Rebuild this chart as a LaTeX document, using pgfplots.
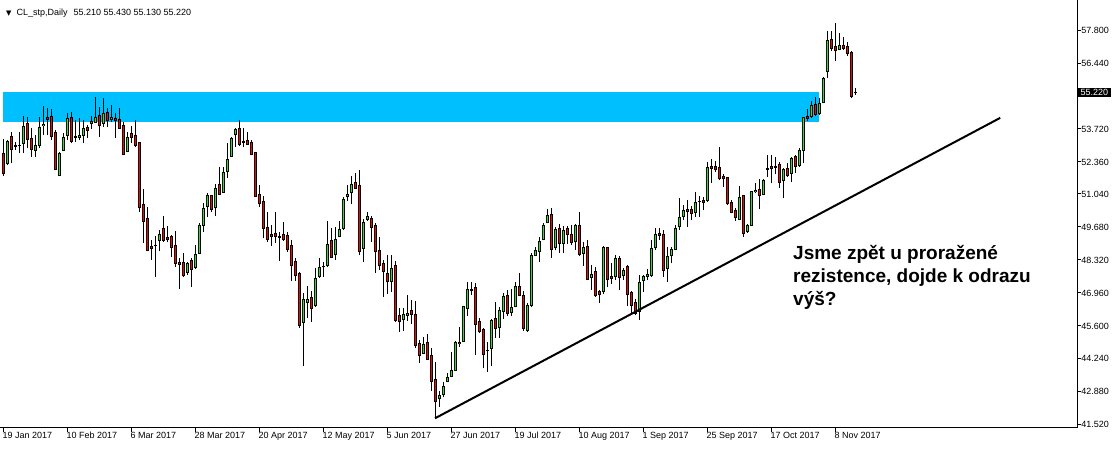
\documentclass[border=0pt]{standalone}
\usepackage{fontspec}
\setmainfont{Liberation Sans}
\newfontfamily\dejavu{DejaVu Sans}
\usepackage{pgfplots}
\pgfplotsset{compat=1.18}
\usepackage{pgfplotstable}
\definecolor{bandblue}{RGB}{0,191,255}
\definecolor{bull}{RGB}{0,255,0}
\definecolor{bear}{RGB}{255,0,0}

\pgfplotstableread{
k o h l c
0 52.72 53.30 51.80 51.87
1 52.30 53.26 52.23 53.22
2 53.43 53.61 52.30 52.88
3 53.02 53.18 52.85 53.00
4 53.02 53.59 52.73 53.06
5 53.13 54.25 52.72 53.84
6 53.95 54.22 52.92 53.29
7 53.33 53.75 52.58 52.88
8 52.84 53.47 52.58 53.06
9 53.03 54.20 52.92 53.79
10 53.85 54.67 53.47 53.92
11 54.18 54.57 53.47 54.12
12 54.25 54.53 53.26 53.40
13 53.56 53.67 52.03 52.06
14 51.82 52.77 51.78 52.72
15 52.84 53.55 52.81 53.38
16 53.47 54.39 53.26 54.16
17 54.20 54.43 53.14 53.22
18 53.40 54.09 53.19 53.38
19 53.39 54.16 53.26 53.47
20 53.47 54.09 53.13 53.75
21 53.79 53.88 53.35 53.65
22 53.94 54.25 53.71 54.01
23 54.00 55.05 53.95 54.20
24 54.29 54.61 53.40 53.85
25 53.95 54.98 53.81 54.36
26 54.41 54.57 53.81 54.06
27 54.10 54.71 54.02 54.20
28 54.16 54.36 53.33 54.06
29 54.12 54.57 53.71 53.75
30 53.88 53.99 52.65 52.67
31 52.78 53.58 52.77 53.38
32 53.54 53.84 53.13 53.36
33 53.47 54.09 52.99 53.03
34 53.17 53.18 50.31 50.47
35 50.61 51.24 49.00 49.89
36 50.01 50.51 48.68 48.70
37 48.89 49.14 48.31 48.80
38 48.92 49.32 47.63 48.90
39 49.11 49.55 48.70 49.37
40 49.63 50.13 49.07 49.14
41 49.26 49.72 49.04 49.15
42 49.30 49.35 48.45 48.82
43 48.93 49.52 48.04 48.18
44 48.22 48.40 47.12 48.15
45 48.20 48.59 47.61 47.67
46 47.79 48.25 47.70 48.18
47 48.31 48.38 47.21 47.93
48 48.00 48.93 47.93 48.56
49 48.59 49.83 48.56 49.72
50 49.76 50.65 49.48 50.45
51 50.51 51.07 50.10 50.96
52 50.96 51.00 50.31 50.41
53 50.47 51.45 50.14 51.27
54 51.45 52.14 51.00 51.02
55 51.11 52.14 51.08 51.94
56 51.96 53.13 51.71 52.47
57 52.58 53.40 52.57 53.33
58 53.48 53.75 52.99 53.68
59 53.72 54.09 53.02 53.09
60 53.19 53.75 52.99 53.17
61 53.26 53.58 53.06 53.09
62 53.17 53.26 52.65 52.67
63 52.76 52.78 50.92 50.93
64 51.02 51.41 50.51 50.65
65 50.75 50.96 49.21 49.62
66 49.67 50.31 49.07 49.18
67 49.35 49.76 48.89 49.28
68 49.42 50.31 49.03 49.28
69 49.28 49.48 48.29 49.25
70 49.35 49.87 49.10 49.17
71 49.32 49.48 48.66 48.76
72 48.93 49.14 47.46 48.11
73 48.27 48.38 47.46 47.66
74 47.77 47.83 45.50 45.63
75 45.75 46.94 43.96 46.67
76 46.57 47.26 45.94 46.67
77 46.78 47.04 45.77 46.32
78 46.43 48.00 46.39 47.56
79 47.63 48.38 47.59 48.01
80 48.07 48.25 47.63 48.05
81 48.08 49.92 48.04 48.96
82 49.14 49.65 48.38 48.43
83 48.55 49.69 48.31 49.18
84 49.28 49.92 49.25 49.59
85 49.62 50.90 49.55 50.82
86 50.93 51.43 50.77 51.00
87 51.09 51.79 50.61 51.45
88 51.52 51.89 51.23 51.27
89 51.37 52.03 48.52 48.66
90 48.80 50.00 48.23 49.87
91 50.00 50.31 49.94 50.10
92 50.03 50.13 49.07 49.66
93 49.76 49.83 47.79 48.66
94 48.73 49.28 47.90 48.08
95 48.18 48.31 46.80 47.83
96 47.77 48.52 46.91 47.42
97 47.45 48.52 47.01 47.97
98 48.08 48.29 45.77 45.84
99 46.01 46.32 45.36 45.77
100 45.87 46.32 45.40 46.05
101 46.02 46.87 45.81 46.12
102 46.25 46.67 45.68 46.07
103 46.09 46.62 44.67 44.78
104 44.89 45.02 44.08 44.37
105 44.47 45.15 44.45 44.84
106 44.92 45.26 44.19 44.23
107 44.40 44.67 42.93 43.30
108 43.39 44.12 41.79 42.47
109 42.61 42.93 42.27 42.75
110 42.79 43.30 42.65 43.12
111 43.30 43.67 43.28 43.48
112 43.53 44.51 43.48 43.75
113 43.78 44.97 43.75 44.92
114 44.93 45.54 44.74 44.88
115 44.95 46.43 44.93 46.39
116 46.32 47.40 46.00 47.12
117 47.12 47.40 46.87 47.08
118 47.19 47.36 44.40 45.66
119 45.77 45.92 45.29 45.36
120 45.47 45.50 43.85 44.43
121 44.60 44.92 43.71 44.60
122 44.67 45.88 43.94 45.84
123 45.91 46.57 45.11 45.50
124 45.54 46.39 45.11 46.23
125 46.19 46.94 45.88 46.83
126 46.87 47.08 46.00 46.12
127 46.16 47.12 46.00 46.35
128 46.39 47.42 46.36 47.24
129 47.22 47.77 46.83 46.87
130 46.87 47.04 45.39 45.51
131 45.43 46.55 45.35 46.46
132 46.46 48.59 46.39 48.52
133 48.49 48.86 48.48 48.69
134 48.66 49.28 48.25 49.10
135 49.17 49.85 49.14 49.76
136 49.85 50.41 49.83 50.17
137 50.21 50.45 48.39 48.76
138 48.82 49.66 48.73 49.58
139 49.62 49.80 48.62 49.00
140 49.00 49.72 48.59 49.55
141 49.62 49.72 48.97 49.37
142 49.38 49.76 48.93 49.03
143 49.07 49.80 48.73 49.76
144 49.76 50.29 48.48 48.55
145 48.59 49.07 48.07 48.84
146 48.89 49.14 47.49 47.53
147 47.60 48.11 47.08 47.73
148 47.83 48.04 46.80 46.84
149 47.01 47.08 46.56 46.91
150 47.01 48.89 46.90 48.84
151 48.84 48.86 47.19 47.52
152 47.63 48.20 47.33 47.56
153 47.63 48.52 47.49 48.38
154 48.38 48.48 47.08 47.59
155 47.66 47.97 47.49 47.90
156 48.07 48.11 46.43 46.90
157 46.97 47.04 46.09 46.46
158 46.57 46.69 46.05 46.12
159 46.19 47.70 45.84 47.40
160 47.46 47.70 47.01 47.63
161 47.63 47.94 47.49 47.70
162 47.66 49.14 47.63 48.80
163 48.82 49.62 48.73 49.37
164 49.42 49.62 49.14 49.32
165 49.37 49.55 47.63 47.90
166 47.97 48.84 47.42 48.45
167 48.52 48.84 48.18 48.77
168 48.76 49.76 48.73 49.62
169 49.69 50.86 49.55 50.08
170 50.13 50.58 49.96 50.34
171 50.41 50.79 49.69 50.31
172 50.38 50.54 49.96 50.24
173 50.27 51.13 50.10 50.69
174 50.75 50.96 50.10 50.73
175 50.79 50.93 50.38 50.68
176 50.79 52.34 50.71 52.14
177 52.19 52.47 51.50 52.10
178 52.19 52.41 51.94 52.06
179 52.14 52.96 51.61 51.66
180 51.75 51.85 51.34 51.66
181 51.73 51.75 50.58 50.65
182 50.69 50.79 50.24 50.28
183 50.35 50.45 49.94 50.06
184 49.98 51.37 49.97 50.90
185 50.96 51.00 49.28 49.42
186 49.48 49.80 49.45 49.76
187 49.76 51.16 49.74 51.13
188 51.13 51.50 51.08 51.20
189 51.24 51.64 50.41 50.96
190 51.02 51.64 51.00 51.59
191 52.06 52.65 51.75 52.10
192 52.19 52.65 51.48 52.10
193 52.16 52.58 51.85 52.14
194 52.26 52.36 51.27 51.52
195 51.59 52.10 50.89 52.03
196 52.10 52.30 51.75 51.79
197 51.89 52.58 51.54 52.51
198 52.60 52.65 51.92 52.16
199 52.20 52.92 52.16 52.85
200 52.85 54.22 52.30 54.20
201 54.25 54.54 54.05 54.16
202 54.22 54.87 54.17 54.67
203 54.74 55.02 54.25 54.32
204 54.34 54.98 54.29 54.78
205 54.80 55.88 54.78 55.81
206 56.11 57.76 55.81 57.35
207 57.42 57.76 56.93 57.05
208 57.11 58.08 56.52 56.95
209 57.00 57.66 56.96 57.15
210 57.18 57.50 56.98 57.05
211 57.11 57.32 56.73 56.84
212 56.88 56.93 54.98 55.05
213 55.21 55.43 55.13 55.22
}\candles

\begin{document}
\begin{tikzpicture}
\path[use as bounding box] (0pt,-21pt) rectangle (1117pt,428pt);
\begin{axis}[
  at={(0pt,0pt)}, anchor=south west,
  scale only axis, width=1077pt, height=428pt,
  xmin=-0.825, xmax=268.4, ymin=41.39, ymax=59.04,
  axis x line*=bottom, axis y line*=right,
  axis line style={black, line width=1pt, -},
  tick align=outside, major tick length=4pt,
  tick style={black, line width=1pt},
  xtick={0,16,32,48,64,80,96,112,128,144,160,176,192,208},
  xticklabels={19 Jan 2017,10 Feb 2017,6 Mar 2017,28 Mar 2017,20 Apr 2017,12 May 2017,5 Jun 2017,27 Jun 2017,19 Jul 2017,10 Aug 2017,1 Sep 2017,25 Sep 2017,17 Oct 2017,8 Nov 2017},
  xticklabel style={anchor=north west, inner sep=0pt, font=\fontsize{9}{10}\selectfont, xshift=-1pt},
  ytick={41.52,42.88,44.24,45.6,46.96,48.32,49.68,51.04,52.36,53.72,55.08,56.44,57.8},
  yticklabels={41.520,42.880,44.240,45.600,46.960,48.320,49.680,51.040,52.360,53.720,{},56.440,57.800},
  yticklabel style={anchor=west, inner sep=0pt, font=\fontsize{9}{10}\selectfont},
]
% resistance band
\addplot[fill=bandblue, draw=none, forget plot] coordinates {(-0.07,54.01) (203.9,54.01) (203.9,55.24) (-0.07,55.24)} -- cycle;
% wicks
\addplot[forget plot, no markers, -, draw=black, line width=1pt, line cap=butt,
  quiver={u=0, v={\thisrow{h}-\thisrow{l}}}]
  table[x=k, y=l] {\candles};
% body outlines
\addplot[forget plot, no markers, -, draw=black, line width=3.2pt, line cap=butt,
  quiver={u=0, v={abs(\thisrow{c}-\thisrow{o})+0.0412}}]
  table[x=k, y expr={min(\thisrow{o},\thisrow{c})-0.0206}] {\candles};
% bullish fill
\addplot[forget plot, no markers, -, draw=bull, line width=1.2pt, line cap=butt,
  quiver={u=0, v={max(\thisrow{c}-\thisrow{o}-0.0412,0)}}]
  table[x expr={\thisrow{c}>\thisrow{o} ? \thisrow{k} : -1000}, y expr={\thisrow{o}+0.0206}] {\candles};
% bearish fill
\addplot[forget plot, no markers, -, draw=bear, line width=1.2pt, line cap=butt,
  quiver={u=0, v={max(\thisrow{o}-\thisrow{c}-0.0412,0)}}]
  table[x expr={\thisrow{o}>\thisrow{c} ? \thisrow{k} : -1000}, y expr={\thisrow{c}+0.0206}] {\candles};
% trend line
\addplot[black, line width=2pt, forget plot, no markers] coordinates {(107.9,41.79) (249.2,54.18)};
\coordinate (pb) at (axis cs:268.4,55.22);
\end{axis}
\node[fill=black, text=white, anchor=west, inner xsep=3pt, inner ysep=1.5pt, text height=6.5pt, text depth=0pt, font=\fontsize{9}{10}\selectfont] at ([xshift=0.5pt]pb) {55.220};
\node[anchor=base west, inner sep=0pt, font=\fontsize{9}{10}\selectfont] at (6pt,412pt) {{\dejavu\fontsize{7}{8}\selectfont ▼}\hspace{5pt}CL\_stp,Daily\hspace{6pt}55.210 55.430 55.130 55.220};
\node[anchor=north west, align=left, inner sep=0pt, font=\fontsize{19}{23}\selectfont\bfseries] at (793pt,183pt) {Jsme zpět u proražené\\rezistence, dojde k odrazu\\výš?};
\end{tikzpicture}
\end{document}
